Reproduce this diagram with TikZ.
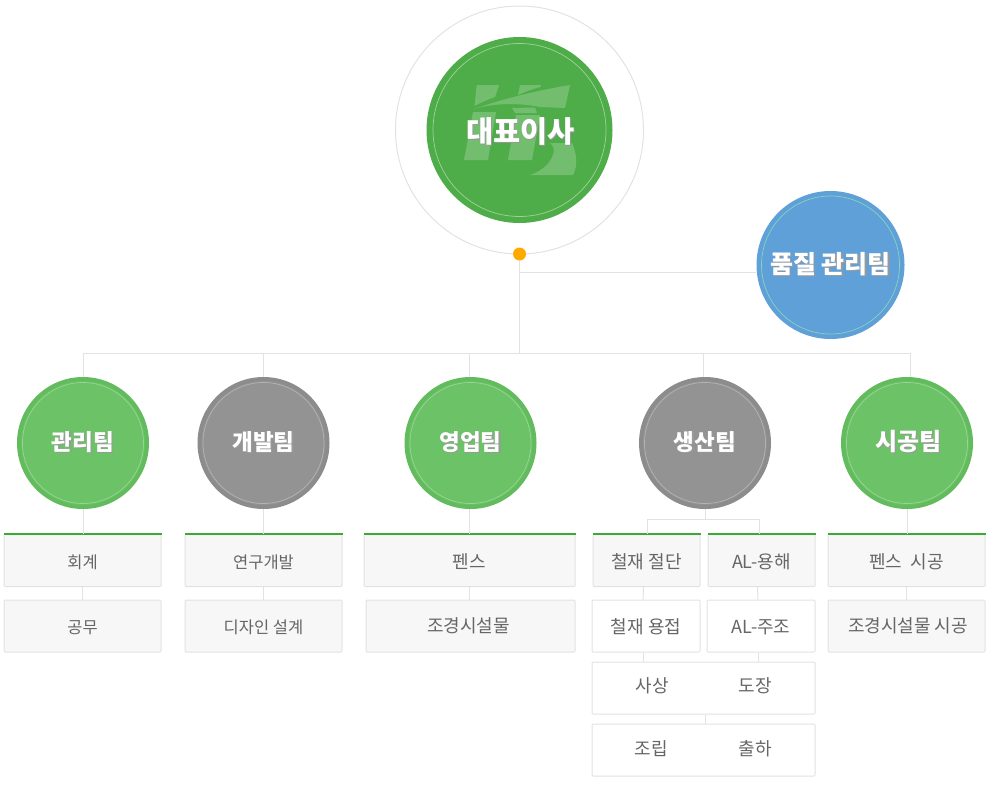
\documentclass[tikz,border=0pt]{standalone}
\usepackage{fontspec}
\setmainfont{Noto Sans CJK KR}
\newcommand{\shadowed}[1]{\rlap{\hspace{1.2pt}\raisebox{-1.2pt}{\color{black!40}#1}}#1}
\definecolor{linegray}{HTML}{E2E2E2}
\definecolor{boxgray}{HTML}{F7F7F7}
\definecolor{textgray}{HTML}{666666}
\definecolor{ceogreen}{HTML}{4EAD49}
\definecolor{logogreen}{HTML}{72BE6E}
\definecolor{teamgreen}{HTML}{6CC267}
\definecolor{teamedge}{HTML}{62BC5D}
\definecolor{teamgray}{HTML}{939393}
\definecolor{grayedge}{HTML}{8C8C8C}
\definecolor{qablue}{HTML}{5FA0D9}
\definecolor{dotorange}{HTML}{FFAA00}
\definecolor{barGreen}{HTML}{3AA935}
\tikzset{
  link/.style={draw=linegray,line width=1pt},
  ring/.style={line width=.7pt},
  teamgreennode/.style={circle,draw=teamedge,fill=teamgreen,line width=4pt,minimum size=128pt,inner sep=0pt,text=white,text height=15pt,text depth=0pt,font=\fontsize{22.5}{24}\selectfont\bfseries},
  teamgraynode/.style={teamgreennode,draw=grayedge,fill=teamgray},
  unitbox/.style={rectangle,rounded corners=1pt,draw=linegray,fill=boxgray,line width=1pt,inner sep=0pt,text=textgray,text height=15pt,text depth=0pt,font=\fontsize{18}{20}\selectfont},
  smallbox/.style={unitbox,minimum width=157pt,minimum height=52pt,font=\fontsize{16.5}{20}\selectfont},
  whitebox/.style={unitbox,fill=white},
  boxtext/.style={inner sep=0pt,text=textgray,font=\fontsize{18}{20}\selectfont},
  topbar/.style={draw=barGreen,line width=2.4pt}
}
\begin{document}
\begin{tikzpicture}[x=1pt,y=-1pt]
\useasboundingbox (0,0) rectangle (1000,792);
% bus
\coordinate (busa) at (83,353.5);
\coordinate (busb) at (263.5,353.5);
\coordinate (busc) at (519.5,353.5);
\coordinate (busd) at (469,353.5);
\coordinate (buse) at (703,353.5);
\coordinate (busf) at (910.5,353.5);
\coordinate (qajoin) at (519.5,272.5);
\coordinate (prodjoin) at (705,519.5);
\coordinate (prodl) at (647,519.5);
\coordinate (prodr) at (759,519.5);

% top
\node[circle,draw=linegray,line width=1pt,minimum size=248pt,inner sep=0pt] (outer) at (519.5,130) {};
\node[circle,fill=ceogreen,minimum size=186pt,inner sep=0pt] (ceo) at (519.5,130) {};
\draw[ring,white!45!ceogreen] (ceo.center) circle (86.5);
% logo
\fill[logogreen] (476.7,85) -- (499,85) -- (495,97) .. controls (487,100) and (480,103) .. (474.5,106) -- cycle;
\fill[logogreen] (520,85) -- (541,85) -- (540.5,87) .. controls (532,89) and (525,92) .. (518,95) -- cycle;
\fill[logogreen] (474,109) .. controls (505,98) and (540,90) .. (570,85) -- (565,108) -- (540,107) .. controls (515,102) and (490,104) .. (474,109) -- cycle;
\fill[logogreen] (512,108) -- (535,107.5) -- (537,113) -- (515,113) -- cycle;
\fill[logogreen] (473,112) -- (496,112) -- (488,160) -- (464,160) -- cycle;
\fill[logogreen] (516,115) -- (540,115) -- (532,160) -- (508,160) -- cycle;
\fill[logogreen] (530,175) .. controls (545,170) and (553,160) .. (554,150) .. controls (554,147) and (552,145) .. (550,143) -- (572,143) .. controls (577,155) and (578,165) .. (573,175) -- cycle;
\node[text=white,font=\fontsize{29.5}{32}\selectfont\bfseries] (ceotext) at (520.5,132) {\shadowed{대표이사}};
\node[circle,fill=dotorange,minimum size=13pt,inner sep=0pt] (dot) at (519.5,254) {};

\node[circle,fill=qablue,minimum size=148pt,inner sep=0pt,text=white,text height=17pt,text depth=0pt,font=\fontsize{25}{28}\selectfont\bfseries] (qa) at (830.5,265) {\shadowed{품질 관리팀}};
\draw[ring,green!30!qablue!65!white] (qa.center) circle (69);

% teams
\node[teamgreennode] (mgmt) at (83,443) {\shadowed{관리팀}};
\node[teamgraynode] (rnd) at (263.5,443) {\shadowed{개발팀}};
\node[teamgreennode] (sales) at (470.5,443) {\shadowed{영업팀}};
\node[teamgraynode] (prod) at (705,443) {\shadowed{생산팀}};
\node[teamgreennode,font=\fontsize{24}{26}\selectfont\bfseries] (site) at (907,443) {\hspace{3pt}\shadowed{시공팀}};
\foreach \t in {mgmt,rnd,sales,prod,site}
  \draw[ring,white,opacity=.3] (\t.center) circle (60.5);

% boxes
\node[smallbox] (acct) at (82.5,560.5) {회계};
\node[smallbox] (cost) at (82.5,626) {공무};
\node[smallbox] (rsch) at (263.5,560.5) {연구개발};
\node[smallbox] (dsgn) at (263.5,626) {디자인 설계};
\node[unitbox,minimum width=211pt,minimum height=52pt] (fence) at (469.5,560.5) {펜스};
\node[unitbox,minimum width=209pt,minimum height=52pt,text height=13pt] (land) at (470.5,626) {\hspace{-4pt}조경시설물};
\node[unitbox,minimum width=107pt,minimum height=52pt] (cut) at (646.5,560.5) {철재 절단};
\node[unitbox,minimum width=107pt,minimum height=52pt] (melt) at (761.5,560.5) {AL-용해};
\node[whitebox,minimum width=108pt,minimum height=52pt] (weld) at (646,626) {철재 용접};
\node[whitebox,minimum width=108pt,minimum height=52pt] (cast) at (761,626) {AL-주조};
\node[whitebox,minimum width=223pt,minimum height=52pt] (fin) at (703.5,688) {};
\node[whitebox,minimum width=223pt,minimum height=52pt] (asm) at (703.5,750) {};
\node[boxtext] (finish) at (652,686) {사상};
\node[boxtext] (paint) at (755,686) {도장};
\node[boxtext] (build) at (651,749) {조립};
\node[boxtext] (ship) at (755,749) {출하};
\node[unitbox,minimum width=157pt,minimum height=52pt] (fencework) at (906.5,560.5) {펜스\ \ 시공};
\node[unitbox,minimum width=157pt,minimum height=52pt,text height=13pt] (landwork) at (906.5,626) {\hspace{3pt}조경시설물 시공};

% top bars
\foreach \b in {acct,rsch,fence,cut,melt,fencework}
  \draw[topbar] (\b.north west) -- (\b.north east);

% links
\draw[link] (dot.south) -- (busc);
\draw[link] (qajoin) -- (qajoin -| qa.west);
\draw[link] (busa) -- (busf);
\draw[link] (busa) -- (mgmt.north);
\draw[link] (busb) -- (rnd.north);
\draw[link] (busd) -- (busd |- sales.north);
\draw[link] (buse) -- (buse |- prod.north);
\draw[link] (busf) -- (busf |- site.north);
\draw[link] (mgmt.south) -- (acct.north -| mgmt.south);
\draw[link] (acct.south) -- (cost.north);
\draw[link] (rnd.south) -- (rsch.north);
\draw[link] (rsch.south) -- (dsgn.north);
\draw[link] (sales.south -| fence.north) -- (fence.north);
\draw[link] (fence.south) -- (fence.south |- land.north);
\draw[link] (site.south) -- (site.south |- fencework.north);
\draw[link] (fencework.south) -- (landwork.north);
\draw[link] (prod.south) -- (prodjoin);
\draw[link] (prodl |- cut.north) -- (prodl) -- (prodr) -- (prodr |- melt.north);
\draw[link] (cut.south) ++(-3,0) -- (weld.north -| 643,0);
\draw[link] (melt.south) ++(-4,0) -- (cast.north -| 758,0);
\draw[link] (weld.south) ++(-3,0) -- (fin.north -| 643,0);
\draw[link] (cast.south) ++(-3,0) -- (fin.north -| 758,0);
\draw[link] (fin.south) ++(2,0) -- (asm.north -| 705.5,0);
\end{tikzpicture}
\end{document}
